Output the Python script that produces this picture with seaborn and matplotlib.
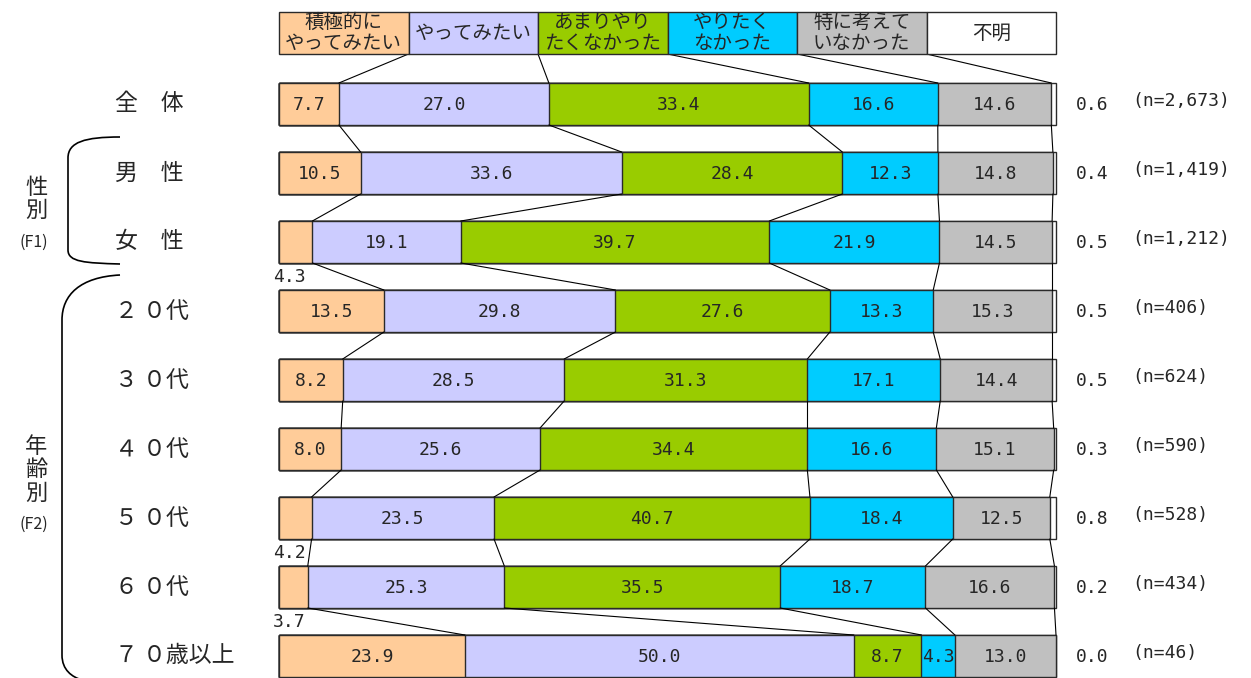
import numpy as np
import pandas as pd
import matplotlib
matplotlib.use("Agg")
import matplotlib.pyplot as plt
from matplotlib.patches import Rectangle, PathPatch
from matplotlib.path import Path
import seaborn as sns

sns.set_theme(style="white")
plt.rcParams['font.family'] = ['Noto Sans CJK JP', 'DejaVu Sans']

categories = ['全　体', '男　性', '女　性', '２ ０代', '３ ０代', '４ ０代', '５ ０代', '６ ０代', '７ ０歳以上']
series = ['積極的に\nやってみたい', 'やってみたい', 'あまりやり\nたくなかった', 'やりたく\nなかった', '特に考えて\nいなかった', '不明']
colors = ['#FFCC99', '#CCCCFF', '#99CC00', '#00CCFF', '#C0C0C0', '#FFFFFF']

v_active = [7.7, 10.5, 4.3, 13.5, 8.2, 8.0, 4.2, 3.7, 23.9]
v_want = [27.0, 33.6, 19.1, 29.8, 28.5, 25.6, 23.5, 25.3, 50.0]
v_rather_not = [33.4, 28.4, 39.7, 27.6, 31.3, 34.4, 40.7, 35.5, 8.7]
v_not = [16.6, 12.3, 21.9, 13.3, 17.1, 16.6, 18.4, 18.7, 4.3]
v_nothought = [14.6, 14.8, 14.5, 15.3, 14.4, 15.1, 12.5, 16.6, 13.0]
v_unknown = [0.6, 0.4, 0.5, 0.5, 0.5, 0.3, 0.8, 0.2, 0.0]
n_labels = ['(n=2,673)', '(n=1,419)', '(n=1,212)', '(n=406)', '(n=624)', '(n=590)', '(n=528)', '(n=434)', '(n=46)']

vals = np.array([v_active, v_want, v_rather_not, v_not, v_nothought, v_unknown]).T  # rows x series
cum = np.cumsum(vals, axis=1)
cum = cum / cum[:, -1:] * 100.0
starts = np.hstack([np.zeros((len(categories), 1)), cum[:, :-1]])

# pixel helpers (layout only)
def px2x(px):
    return (px - 279) / 777 * 100
def py2y(py):
    return (py - 104) / 69

W, H = 1251, 678
fig = plt.figure(figsize=(W / 100, H / 100), dpi=100)
ax = fig.add_axes([0, 0, 1, 1])

bar_h = 42 / 69
edge = '#2a2a2a'
for k in range(len(series) - 1, -1, -1):
    df = pd.DataFrame({'cat': categories, 'val': cum[:, k]})
    sns.barplot(data=df, x='val', y='cat', order=categories, orient='h',
                color=colors[k], saturation=1, width=bar_h,
                edgecolor=edge, linewidth=1.0, ax=ax, errorbar=None)

ax.set_xlim(px2x(0), px2x(W))
ax.set_ylim(py2y(H), py2y(0))
ax.axis('off')

num_font = ['DejaVu Sans Mono']
fs_num = 13

# legend boxes
ly0, ly1 = py2y(12), py2y(54)
for k, (s, c) in enumerate(zip(series, colors)):
    x0 = k * 100 / 6
    ax.add_patch(Rectangle((x0, ly0), 100 / 6, ly1 - ly0, facecolor=c,
                           edgecolor=edge, linewidth=1.0, zorder=3))
    ax.text(x0 + 100 / 12, (ly0 + ly1) / 2, s, ha='center', va='center',
            fontsize=14, linespacing=1.0, zorder=4)

# connector lines
h2 = bar_h / 2
for k in range(5):
    ax.plot([100 * (k + 1) / 6, cum[0, k]], [ly1, 0 - h2], color='black', lw=0.8, zorder=1)
for i in range(len(categories) - 1):
    for k in range(5):
        ax.plot([cum[i, k], cum[i + 1, k]], [i + h2, i + 1 - h2], color='black', lw=0.8, zorder=1)

# value labels
for i in range(len(categories)):
    for k in range(5):
        v = vals[i, k]
        mid = (starts[i, k] + cum[i, k]) / 2
        if k == 0 and v < 5:
            ax.text(px2x(273), i + h2 + 14 / 69, f'{v:.1f}', ha='left', va='center',
                    fontsize=fs_num, family=num_font)
        else:
            ax.text(mid, i + 1 / 69, f'{v:.1f}', ha='center', va='center',
                    fontsize=fs_num, family=num_font)
    ax.text(px2x(1092), i + 1 / 69, f'{vals[i, 5]:.1f}', ha='center', va='center',
            fontsize=fs_num, family=num_font)
    ax.text(px2x(1132), i - 3 / 69, n_labels[i], ha='left', va='center',
            fontsize=fs_num, family=num_font)
    ax.text(px2x(115), i, categories[i], ha='left', va='center', fontsize=16.5)

# group labels
ax.text(px2x(36), py2y(199), '性\n別', ha='center', va='center', fontsize=16, linespacing=1.0)
ax.text(px2x(34), py2y(242), '(F1)', ha='center', va='center', fontsize=11.5)
ax.text(px2x(36), py2y(470), '年\n齢\n別', ha='center', va='center', fontsize=16, linespacing=1.0)
ax.text(px2x(34), py2y(524), '(F2)', ha='center', va='center', fontsize=11.5)

# brackets
def bracket(pts):
    verts = [(px2x(x), py2y(y)) for x, y in pts]
    codes = [Path.MOVETO, Path.CURVE4, Path.CURVE4, Path.CURVE4, Path.LINETO,
             Path.CURVE4, Path.CURVE4, Path.CURVE4]
    ax.add_patch(PathPatch(Path(verts, codes), fill=False, edgecolor='black', lw=1.2))

bracket([(120, 137), (85, 137), (68, 142), (68, 158),
         (68, 250), (68, 262), (85, 263), (120, 264)])
bracket([(120, 275), (80, 277), (62, 295), (62, 320),
         (62, 655), (62, 670), (72, 677), (82, 680)])

fig.savefig('out.png', dpi=100)
